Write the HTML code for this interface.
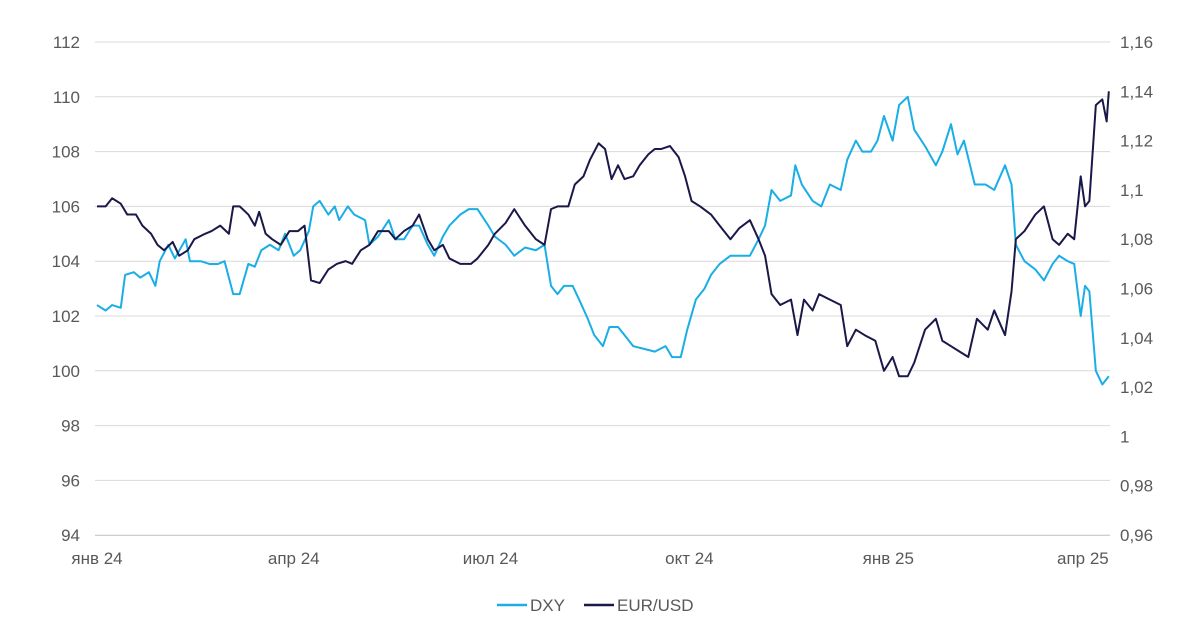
<!DOCTYPE html>
<html><head><meta charset="utf-8"><style>
html,body{margin:0;padding:0;background:#fff;}
svg text{font-family:"Liberation Sans",sans-serif;font-size:17px;fill:#595959;}
</style></head><body>
<svg id="chart" width="1200" height="630" viewBox="0 0 1200 630" xmlns="http://www.w3.org/2000/svg">
<g id="grid"></g>
<g id="ylab"></g>
<g id="y2lab"></g>
<g id="xlab"></g>
<g id="series"></g>
<g>
<g><line x1="497" y1="605" x2="527" y2="605" stroke="#19aee6" stroke-width="2.5"/><text x="530" y="611">DXY</text></g>
<g><line x1="584" y1="605" x2="614" y2="605" stroke="#1a1848" stroke-width="2.5"/><text x="617" y="611">EUR/USD</text></g>
</g>
</svg>
<script>
const leftTicks=[94,96,98,100,102,104,106,108,110,112];
const rightTicks=["0,96","0,98","1","1,02","1,04","1,06","1,08","1,1","1,12","1,14","1,16"];
const xLabels=["янв 24","апр 24","июл 24","окт 24","янв 25","апр 25"];
const xLabelDays=[0,91,182,274,366,456];
const dxyDays=[0,4,7,11,13,17,20,24,27,29,33,36,41,43,48,52,56,59,63,66,70,73,76,80,84,87,91,94,98,100,103,107,110,112,116,119,124,126,130,135,138,142,146,149,153,156,160,163,168,172,176,181,184,189,193,198,203,207,210,213,216,220,223,227,230,234,237,241,244,248,253,258,263,266,270,273,277,281,284,288,293,297,302,306,309,312,316,321,323,326,331,335,339,344,347,351,354,358,361,364,368,371,375,378,383,388,391,395,398,401,406,411,415,420,423,425,429,434,438,442,445,449,452,455,457,459,462,465,468];
const dxyValues=[102.4,102.2,102.4,102.3,103.5,103.6,103.4,103.6,103.1,104.0,104.6,104.1,104.8,104.0,104.0,103.9,103.9,104.0,102.8,102.8,103.9,103.8,104.4,104.6,104.4,105.0,104.2,104.4,105.1,106.0,106.2,105.7,106.0,105.5,106.0,105.7,105.5,104.6,104.9,105.5,104.8,104.8,105.3,105.3,104.6,104.2,104.9,105.3,105.7,105.9,105.9,105.3,104.9,104.6,104.2,104.5,104.4,104.6,103.1,102.8,103.1,103.1,102.6,101.9,101.3,100.9,101.6,101.6,101.3,100.9,100.8,100.7,100.9,100.5,100.5,101.5,102.6,103.0,103.5,103.9,104.2,104.2,104.2,104.8,105.3,106.6,106.2,106.4,107.5,106.8,106.2,106.0,106.8,106.6,107.7,108.4,108.0,108.0,108.4,109.3,108.4,109.7,110.0,108.8,108.2,107.5,108.0,109.0,107.9,108.4,106.8,106.8,106.6,107.5,106.8,104.6,104.0,103.7,103.3,103.9,104.2,104.0,103.9,102.0,103.1,102.9,100.0,99.5,99.8];
const eurDays=[0,4,7,11,14,18,21,25,28,31,35,38,42,45,50,53,57,61,63,66,70,73,75,78,81,85,89,93,96,99,103,107,111,115,118,122,126,130,135,138,142,146,149,153,156,160,163,168,173,176,181,184,189,193,198,203,207,210,213,218,221,225,228,232,235,238,241,244,248,251,255,258,261,265,269,272,275,279,284,288,293,297,302,306,309,312,316,321,324,327,331,334,339,344,347,351,355,360,364,368,371,375,378,383,388,391,395,399,403,407,412,415,420,423,425,429,434,438,442,445,449,452,455,457,459,462,465,467,468];
const eurValues=[1.0933,1.0933,1.0966,1.0944,1.0900,1.0900,1.0855,1.0822,1.0777,1.0755,1.0789,1.0733,1.0755,1.0800,1.0822,1.0833,1.0855,1.0822,1.0933,1.0933,1.0900,1.0855,1.0911,1.0822,1.0800,1.0777,1.0833,1.0833,1.0855,1.0633,1.0622,1.0677,1.0700,1.0711,1.0700,1.0755,1.0777,1.0833,1.0833,1.0800,1.0833,1.0855,1.0900,1.0800,1.0755,1.0777,1.0722,1.0700,1.0700,1.0722,1.0777,1.0822,1.0866,1.0922,1.0855,1.0800,1.0777,1.0922,1.0933,1.0933,1.1022,1.1055,1.1122,1.1189,1.1166,1.1044,1.1100,1.1044,1.1055,1.1100,1.1144,1.1166,1.1166,1.1178,1.1133,1.1055,1.0955,1.0933,1.0900,1.0855,1.0800,1.0844,1.0877,1.0800,1.0733,1.0577,1.0533,1.0555,1.0411,1.0555,1.0511,1.0577,1.0555,1.0533,1.0366,1.0433,1.0411,1.0388,1.0266,1.0322,1.0244,1.0244,1.0299,1.0433,1.0477,1.0388,1.0366,1.0344,1.0322,1.0477,1.0433,1.0511,1.0411,1.0588,1.0800,1.0833,1.0900,1.0933,1.0800,1.0777,1.0822,1.0800,1.1055,1.0933,1.0955,1.1344,1.1367,1.1278,1.1400];

const NS="http://www.w3.org/2000/svg";
const x=d=>97+d*2.162;
const yL=v=>42+(112-v)*27.4;
const yR=v=>42+(1.16-v)*2465;
function mk(t,a,p){const e=document.createElementNS(NS,t);for(const k in a)e.setAttribute(k,a[k]);p.appendChild(e);return e;}
const grid=document.getElementById('grid'),yl=document.getElementById('ylab'),y2=document.getElementById('y2lab'),xl=document.getElementById('xlab'),ser=document.getElementById('series');
leftTicks.forEach((v,i)=>{
  const g=mk('line',{x1:95,x2:1110,y1:yL(v),y2:yL(v),stroke:v===94?'#bfbfbf':'#d9d9d9','stroke-width':1},grid);
  
  
  const t=mk('text',{x:80,y:yL(v)+6,'text-anchor':'end'},yl);t.textContent=v;
  
  
});
rightTicks.forEach((s,i)=>{
  const v=0.96+i*0.02;
  const t=mk('text',{x:1120,y:yR(v)+6},y2);t.textContent=s;
  
  
});
xLabels.forEach((s,i)=>{
  const t=mk('text',{x:x(xLabelDays[i]),y:564,'text-anchor':'middle'},xl);t.textContent=s;
  
  
});
const p1=mk('polyline',{points:dxyDays.map((d,i)=>x(d)+','+yL(dxyValues[i])).join(' '),fill:'none',stroke:'#19aee6','stroke-width':2,'stroke-linejoin':'round'},ser);


const p2=mk('polyline',{points:eurDays.map((d,i)=>x(d)+','+yR(eurValues[i])).join(' '),fill:'none',stroke:'#1a1848','stroke-width':2,'stroke-linejoin':'round'},ser);


</script>
</body></html>
